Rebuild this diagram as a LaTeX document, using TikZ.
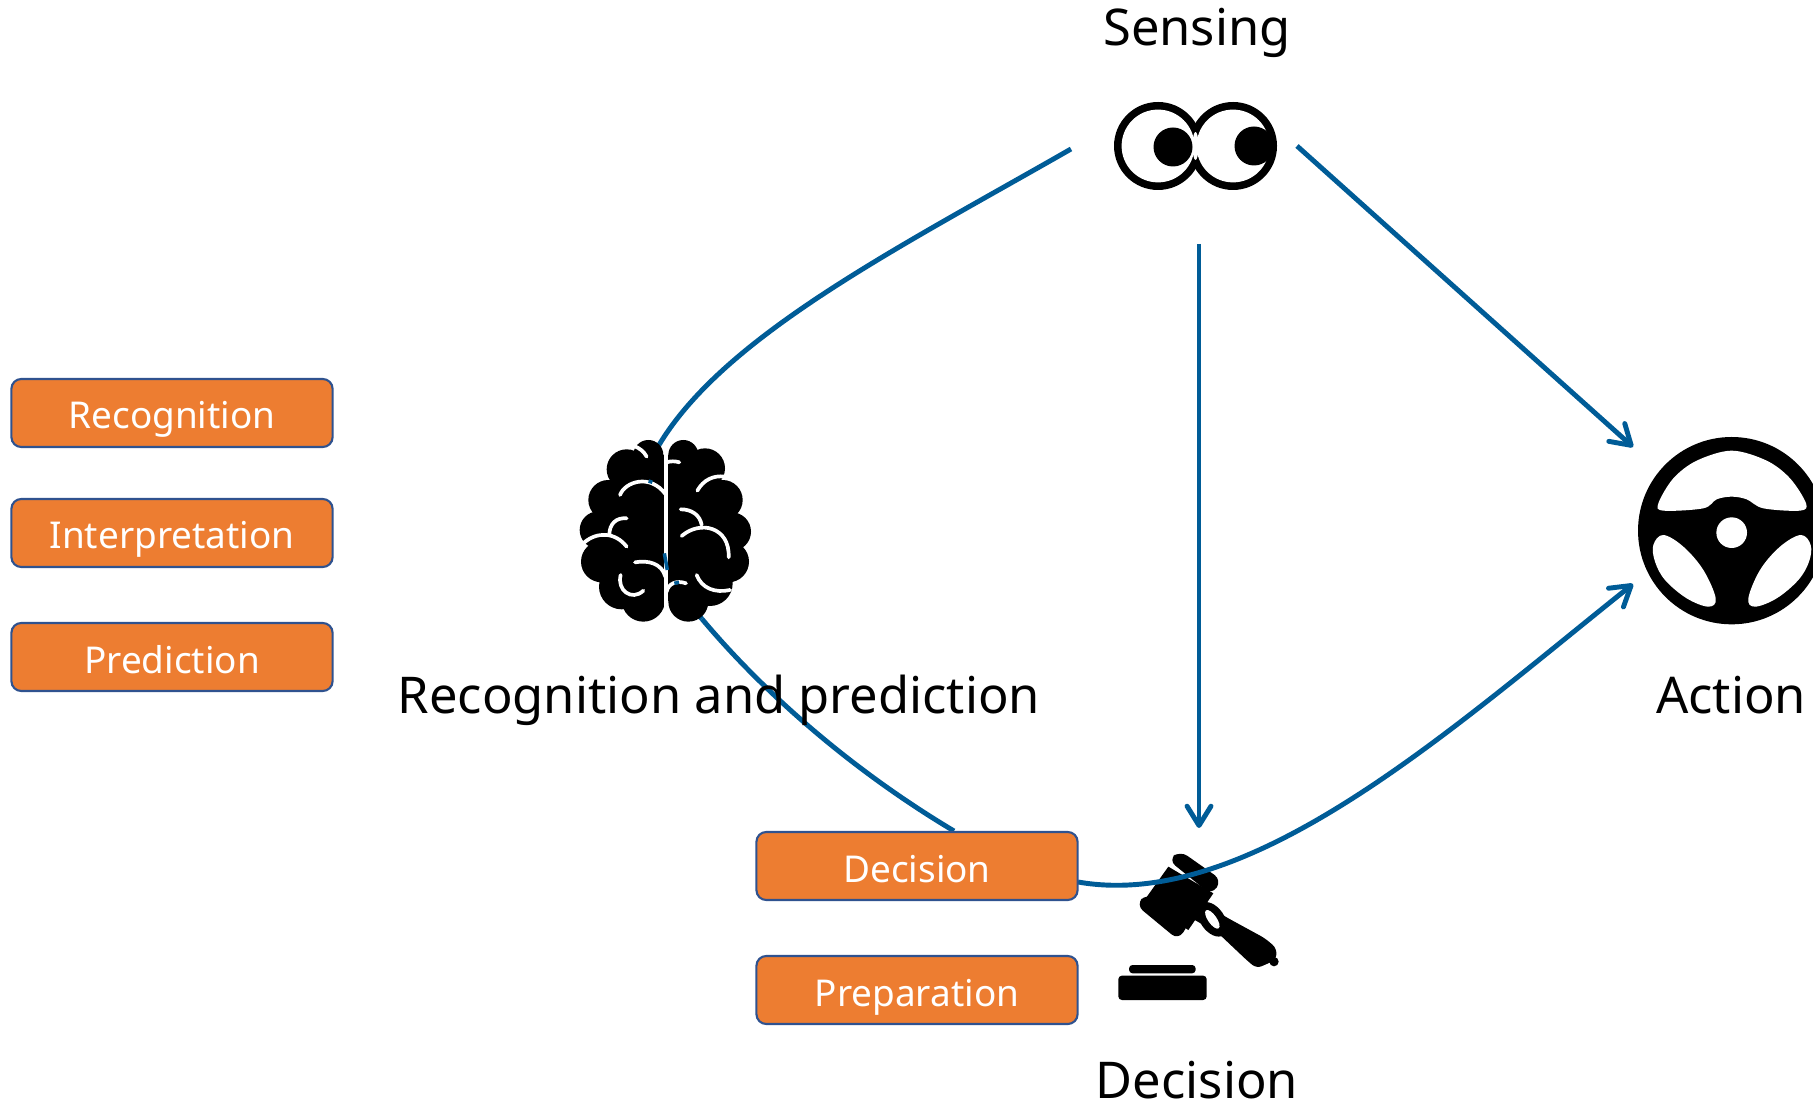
\documentclass[tikz,border=0pt]{standalone}
\usepackage{fontspec}
\setmainfont{Noto Sans}
\usetikzlibrary{arrows.meta}
\definecolor{linkblue}{HTML}{005C97}
\definecolor{boxorange}{HTML}{ED7D31}
\definecolor{boxedge}{HTML}{2F528F}
\tikzset{
  taskbox/.style={draw=boxedge,line width=0.6pt,fill=boxorange,rounded corners=2.8pt,text=white,font=\fontsize{10.5}{12}\selectfont,minimum width=3.21cm,minimum height=0.68cm,inner sep=0pt,text height=11pt,text depth=1.9pt},
  stagelabel/.style={font=\fontsize{14.4}{17}\selectfont,inner sep=0pt,anchor=base},
  link/.style={draw=linkblue,line width=1.4pt},
  arrowlink/.style={link,-{Straight Barb[length=5.5pt,width=6.8pt,round]}},
  sulcus/.style={white,line width=1.05pt,line cap=round}
}

\begin{document}
\begin{tikzpicture}[x=0.01cm,y=-0.01cm]
\useasboundingbox (0,0) rectangle (1813,1104);

\coordinate (sensleft) at (1071,149);
\coordinate (sensright) at (1297,146);
\coordinate (sensdown) at (1199,244);
\coordinate (brainin) at (659,445);
\coordinate (brainout) at (702,619);
\coordinate (gavelin) at (1199,828);
\coordinate (boxin) at (954,831);
\coordinate (boxout) at (1078,882);
\coordinate (wheeltop) at (1633,447);
\coordinate (wheelbottom) at (1633,584);

\draw [link] (sensleft) .. controls (900,247) and (725,335) .. (brainin);
\draw [link] (brainin) .. controls (630,495) and (640,550) .. (brainout);
\draw [link] (brainout) .. controls (770,700) and (860,775) .. (boxin);

% brain
\begin{scope}[shift={(560,420)},scale=1/3]
\fill (265,105) circle [radius=45];
\fill (200,148) circle [radius=60];
\fill (145,240) circle [radius=60];
\fill (115,330) circle [radius=56];
\fill (125,425) circle [radius=62];
\fill (185,500) circle [radius=68];
\fill (250,540) circle [radius=65];
\fill (370,105) circle [radius=45];
\fill (435,145) circle [radius=60];
\fill (488,240) circle [radius=60];
\fill (515,335) circle [radius=58];
\fill (505,425) circle [radius=62];
\fill (450,490) circle [radius=68];
\fill (385,545) circle [radius=60];
\fill (265,105) -- (370,105) -- (488,240) -- (505,425) -- (385,545) -- (250,540) -- (125,425) -- (145,240) -- cycle;
\draw [white,line width=1.2pt] (318,85) -- (318,610);
\draw [sulcus] (222,78) .. controls (240,85) and (252,95) .. (260,110);
\draw [sulcus] (320,127) .. controls (332,123) and (345,123) .. (358,127);
\draw [sulcus] (180,225) .. controls (195,185) and (270,160) .. (316,222);
\draw [sulcus] (412,212) .. controls (430,180) and (460,165) .. (495,170);
\draw [sulcus] (362,268) .. controls (395,268) and (420,285) .. (425,315);
\draw [sulcus] (365,348) .. controls (420,300) and (510,320) .. (506,412);
\draw [sulcus] (200,295) .. controls (170,292) and (148,310) .. (148,345);
\draw [sulcus] (72,368) .. controls (110,335) and (165,335) .. (200,380);
\draw [sulcus] (225,427) .. controls (265,420) and (305,430) .. (316,470);
\draw [sulcus] (182,465) .. controls (170,510) and (215,545) .. (250,512);
\draw [sulcus] (320,515) .. controls (325,490) and (350,480) .. (378,490);
\draw [sulcus] (410,465) .. controls (425,505) and (465,520) .. (510,510);
\draw [link,line width=1pt] (266,183) -- (277,187);
\draw [link,line width=1pt] (313,400) -- (322,450);
\draw [link,line width=1pt] (343,490) -- (357,487);
\end{scope}

% gavel
\begin{scope}[shift={(1100,830)},scale=1/3]
\fill [rounded corners=2.5pt] (205,90) -- (240,62) -- (365,150) -- (335,195) -- cycle;
\fill [rounded corners=2.5pt] (108,225) -- (140,190) -- (270,275) -- (235,330) -- cycle;
\fill (205,110) -- (340,190) -- (265,300) -- (130,215) -- cycle;
\fill [rounded corners=1.5pt] (300,215) -- (385,265) -- (495,325) -- (530,355) -- (528,390) -- (470,415) -- (445,395) -- (355,310) -- (270,262) -- cycle;
\fill (522,395) circle [radius=14];
\fill [rotate around={-55:(337,268)}] (337,268) ellipse [x radius=58,y radius=36];
\fill [white,rotate around={-55:(337,268)}] (337,268) ellipse [x radius=33,y radius=13];
\fill [rounded corners=1pt] (87,405) rectangle (287,430);
\fill [rounded corners=1pt] (55,437) rectangle (320,510);
\end{scope}

% eyes
\begin{scope}
\fill (1158,146) circle [radius=44];
\fill (1233,146) circle [radius=44];
\fill [white] (1158,146) circle [radius=36.4];
\fill [white] (1233,146) circle [radius=36.4];
\fill [white] (1195.5,146) ellipse [x radius=3,y radius=14];
\fill (1173,147) circle [radius=19.5];
\fill (1254,146) circle [radius=19.5];
\end{scope}

% steering wheel
\begin{scope}[shift={(1600,420)},scale=1/3]
\fill (395,332) circle [radius=281];
\fill [white] (395,338) circle [radius=46];
\fill [white] plot [smooth cycle,tension=0.55] coordinates {(175,250) (220,175) (290,122) (395,92) (500,122) (570,175) (618,250) (600,272) (490,265) (440,238) (395,230) (350,238) (310,265) (190,272)};
\fill [white] plot [smooth cycle,tension=0.6] coordinates {(160,375) (190,345) (250,380) (310,450) (347,535) (325,560) (260,535) (195,480) (165,425)};
\fill [white] plot [smooth cycle,tension=0.6] coordinates {(632,375) (602,345) (540,380) (480,450) (445,535) (465,560) (530,535) (595,480) (627,425)};
\end{scope}

\draw [arrowlink] (sensright) -- (wheeltop);
\draw [arrowlink] (sensdown) -- (gavelin);
\draw [arrowlink] (boxout) .. controls (1250,912) and (1450,730) .. (wheelbottom);

\node [stagelabel] (sensinglabel) at (1197,46) {Sensing};
\node [stagelabel] (brainlabel) at (719,713) {Recognition and prediction};
\node [stagelabel] (actionlabel) at (1731,713) {Action};
\node [stagelabel] (decisionlabel) at (1197,1098) {Decision};

\node [taskbox] (recognitionbox) at (172,413) {Recognition};
\node [taskbox] (interpretationbox) at (172,533) {Interpretation};
\node [taskbox] (predictionbox) at (172,657) {Prediction};
\node [taskbox] (decisionbox) at (917,866) {Decision};
\node [taskbox] (preparationbox) at (917,990) {Preparation};
\end{tikzpicture}
\end{document}
